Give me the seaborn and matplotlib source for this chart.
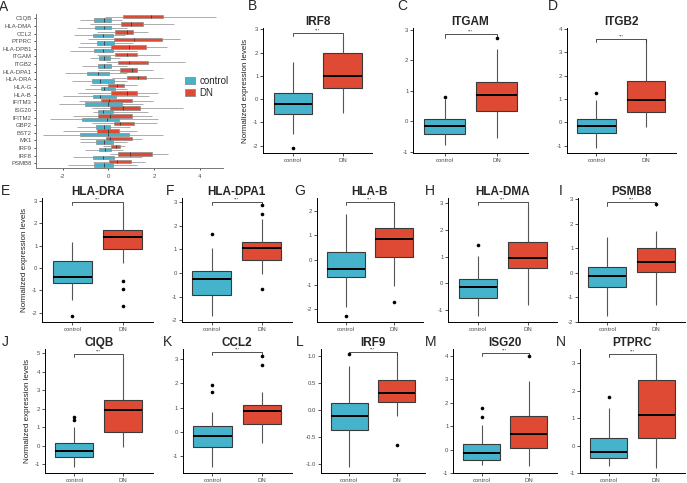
import numpy as np
import pandas as pd
import matplotlib
matplotlib.use("Agg")
import matplotlib.pyplot as plt
from matplotlib.patches import Patch
import seaborn as sns

sns.set_theme(style="ticks")
plt.rcParams["font.family"] = ["Liberation Sans", "DejaVu Sans"]
plt.rcParams["axes.unicode_minus"] = False

GROUPS = ["control", "DN"]
COLORS = {"control": "#45B3CB", "DN": "#DE4A33"}

# ---- panel A: [low whisker, q1, median, q3, high whisker] per gene ----
A_GENES = ["C1QB", "HLA-DMA", "CCL2", "PTPRC", "HLA-DPB1", "ITGAM", "ITGB2",
           "HLA-DPA1", "HLA-DRA", "HLA-G", "HLA-B", "IFITM3", "ISG20", "IFITM2",
           "GBP2", "BST2", "MX1", "IRF9", "IRF8", "PSMB8"]
A_CONTROL = [
    [-1.24, -0.63, -0.19, 0.13, 0.59],
    [-1.39, -0.57, -0.19, 0.10, 0.81],
    [-1.49, -0.66, -0.25, 0.22, 0.73],
    [-1.24, -0.48, -0.19, 0.26, 1.10],
    [-1.68, -0.61, -0.25, 0.19, 1.25],
    [-0.80, -0.41, -0.19, 0.07, 0.51],
    [-1.17, -0.47, -0.19, 0.12, 0.81],
    [-1.90, -0.93, -0.44, 0.04, 0.81],
    [-1.61, -0.70, -0.36, 0.26, 0.81],
    [-1.02, -0.32, -0.19, 0.28, 0.81],
    [-1.97, -0.66, -0.36, 0.32, 1.80],
    [-2.15, -1.02, -0.03, 0.59, 1.54],
    [-0.66, -0.44, -0.23, 0.19, 1.75],
    [-2.56, -1.17, -0.04, 0.48, 2.19],
    [-1.39, -0.54, -0.19, 0.07, 0.95],
    [-2.85, -1.24, 0.00, 0.91, 2.41],
    [-1.24, -0.54, -0.19, 0.19, 0.81],
    [-1.02, -0.39, -0.14, 0.10, 0.66],
    [-1.53, -0.66, -0.25, 0.25, 1.46],
    [-1.78, -0.63, -0.19, 0.22, 1.25],
]
A_DN = [
    [-0.14, 0.66, 1.86, 2.41, 4.71],
    [-0.80, 0.54, 1.00, 1.51, 2.88],
    [-0.51, 0.31, 0.81, 1.08, 1.75],
    [-0.88, 0.26, 1.14, 2.36, 3.15],
    [-1.31, 0.12, 0.89, 1.64, 2.56],
    [-0.51, 0.31, 0.81, 1.25, 2.27],
    [-0.10, 0.43, 0.92, 1.75, 3.38],
    [-0.44, 0.53, 1.03, 1.27, 1.97],
    [0.16, 0.82, 1.32, 1.67, 2.41],
    [-0.80, -0.01, 0.37, 0.67, 1.25],
    [-1.31, 0.12, 0.83, 1.25, 2.19],
    [-1.27, -0.32, 0.02, 1.05, 1.97],
    [-0.73, 0.06, 0.63, 1.39, 3.29],
    [-1.56, -0.44, 0.06, 1.05, 1.90],
    [-0.73, 0.26, 0.51, 1.13, 2.12],
    [-1.97, -0.51, -0.03, 0.48, 1.27],
    [-1.24, -0.10, 0.06, 1.05, 1.46],
    [-0.22, 0.13, 0.34, 0.51, 0.73],
    [0.07, 0.44, 0.95, 1.93, 2.63],
    [-0.66, 0.03, 0.39, 0.98, 1.61],
]

# ---- panels B-N ----
PANEL_GENES = ["IRF8", "ITGAM", "ITGB2", "HLA-DRA", "HLA-DPA1", "HLA-B",
               "HLA-DMA", "PSMB8", "CIQB", "CCL2", "IRF9", "ISG20", "PTPRC"]
PANEL_LETTERS = list("BCDEFGHIJKLMN")
CTRL_STATS = [
    [-1.50, -0.65, -0.23, 0.28, 1.60],
    [-0.79, -0.41, -0.17, 0.08, 0.74],
    [-1.09, -0.47, -0.16, 0.14, 0.95],
    [-1.43, -0.66, -0.39, 0.30, 1.18],
    [-1.83, -0.92, -0.27, 0.07, 1.08],
    [-1.89, -0.68, -0.38, 0.34, 1.85],
    [-1.21, -0.54, -0.15, 0.15, 1.03],
    [-1.76, -0.60, -0.14, 0.25, 1.44],
    [-1.18, -0.60, -0.29, 0.14, 1.03],
    [-1.46, -0.63, -0.17, 0.25, 0.80],
    [-1.05, -0.37, -0.11, 0.12, 0.80],
    [-0.64, -0.42, -0.14, 0.23, 1.06],
    [-0.73, -0.46, -0.24, 0.27, 1.37],
]
DN_STATS = [
    [-0.60, 0.47, 0.98, 1.97, 2.70],
    [-0.55, 0.34, 0.86, 1.30, 2.36],
    [-0.19, 0.45, 0.97, 1.78, 3.57],
    [0.24, 0.85, 1.40, 1.70, 2.82],
    [-0.03, 0.57, 1.08, 1.32, 2.28],
    [-1.05, 0.11, 0.84, 1.28, 2.30],
    [-0.81, 0.56, 0.94, 1.54, 2.94],
    [-1.32, 0.05, 0.42, 1.01, 1.70],
    [-0.09, 0.71, 1.90, 2.48, 4.79],
    [-0.44, 0.33, 0.88, 1.12, 1.63],
    [-0.12, 0.15, 0.31, 0.54, 1.05],
    [-0.71, 0.07, 0.67, 1.42, 2.90],
    [-0.83, 0.29, 1.12, 2.38, 3.26],
]
CTRL_OUTLIERS = [[-2.10], [0.81], [1.27], [-2.13], [1.67], [-2.26], [1.45], [],
                 [1.36, 1.57], [1.66, 1.94], [1.03], [1.39, 1.77], [1.77]]
DN_OUTLIERS = [[], [2.73], [], [-0.60, -0.93, -1.69], [-0.67, 2.52, 2.88],
               [-1.72], [], [2.79], [], [2.74, 3.12], [-0.64], [3.97], []]
BRACKET_Y = [2.83, 2.85, 3.57, 2.94, 3.00, 2.34, 3.06, 2.87, 4.97, 3.28,
             1.07, 4.10, 3.32]
Y_LIMS = [(-2.33, 3.04), (-1.05, 3.05), (-1.32, 4.02), (-2.40, 3.12),
          (-2.07, 3.17), (-2.50, 2.50), (-1.44, 3.19), (-2.00, 3.04),
          (-1.50, 5.22), (-1.71, 3.42), (-1.17, 1.12), (-1.00, 4.28),
          (-1.01, 3.51)]

# axes rectangles in pixels: left, top, right, bottom
W, H = 687, 483
RECT_A = (35.7, 13.7, 223, 167.9)
RECTS = [(263.3, 28.3, 372.3, 153.3), (413.3, 28.3, 527.7, 153.3),
         (566.7, 28.3, 675.7, 153.3),
         (42.3, 198.3, 152.7, 321.7), (181.7, 198.3, 291.7, 321.7),
         (316.7, 198.3, 423, 321.7), (448.3, 198.3, 557.3, 321.7),
         (578.3, 198.3, 685, 321.7),
         (45, 349, 152.7, 473.3), (182.7, 349, 291.7, 473.3),
         (320.7, 349, 425, 473.3), (453.3, 349, 556.7, 473.3),
         (580, 349, 685, 473.3)]
LETTER_POS = [(252, 5.5), (402, 5.5), (553, 5.5), (6, 191), (170, 191),
              (299.5, 191), (430, 191), (561, 191), (5, 342), (167, 342),
              (300, 342), (430.5, 342), (561, 342)]


def add_axes(fig, rect):
    l, t, r, b = rect
    return fig.add_axes([l / W, 1 - b / H, (r - l) / W, (b - t) / H])


def style_axes(ax):
    sns.despine(ax=ax)
    for s in ("left", "bottom"):
        ax.spines[s].set_linewidth(0.7)
        ax.spines[s].set_color("black")
    ax.tick_params(length=2, width=0.6, pad=1.5, labelsize=4.3,
                   color="#333333", labelcolor="#4d4d4d")


fig = plt.figure(figsize=(W / 100, H / 100), dpi=100)

# ---------- panel A ----------
rows = []
for g, c, d in zip(A_GENES, A_CONTROL, A_DN):
    rows += [(g, "control", v) for v in c]
    rows += [(g, "DN", v) for v in d]
dfA = pd.DataFrame(rows, columns=["gene", "group", "value"])

axA = add_axes(fig, RECT_A)
sns.boxplot(data=dfA, x="value", y="gene", hue="group", order=A_GENES,
            hue_order=["DN", "control"], palette=COLORS, saturation=1,
            orient="h", whis=(0, 100), width=0.9, gap=0, linewidth=0.5,
            linecolor="#8c8c8c", showcaps=False, legend=False,
            medianprops=dict(color="#444444", linewidth=0.7), ax=axA)
axA.set_xlim(-3.18, 5.03)
axA.set_ylim(len(A_GENES) - 0.4, -0.6)
axA.set_xticks([-2, 0, 2, 4])
axA.set_xlabel("")
axA.set_ylabel("")
style_axes(axA)
axA.spines["left"].set_color("#777777")
axA.spines["bottom"].set_color("#777777")
axA.tick_params(length=1.5, labelsize=4.3)
axA.tick_params(axis="x", pad=3)
handles = [Patch(facecolor=COLORS[g], edgecolor="#8c8c8c", linewidth=0.6)
           for g in GROUPS]
axA.legend(handles, GROUPS, loc="upper left", bbox_to_anchor=(0.77, 0.63),
           frameon=False, fontsize=7, handlelength=1.1, handleheight=0.8,
           labelspacing=0.25, handletextpad=0.4, borderpad=0)
fig.text(4 / W, 1 - 7 / H, "A", fontsize=10, ha="center", va="center")

# ---------- panels B-N ----------
for i, gene in enumerate(PANEL_GENES):
    ax = add_axes(fig, RECTS[i])
    box_df = pd.DataFrame({
        "group": ["control"] * 5 + ["DN"] * 5,
        "value": CTRL_STATS[i] + DN_STATS[i],
    })
    out_df = pd.DataFrame({
        "group": ["control"] * len(CTRL_OUTLIERS[i]) + ["DN"] * len(DN_OUTLIERS[i]),
        "value": CTRL_OUTLIERS[i] + DN_OUTLIERS[i],
    })
    sns.boxplot(data=box_df, x="group", y="value", hue="group", order=GROUPS,
                palette=COLORS, saturation=1, whis=(0, 100), width=0.78,
                linewidth=0.8, linecolor="#3a3a3a", showcaps=False,
                legend=False, whiskerprops=dict(color="#555555"),
                medianprops=dict(color="black", linewidth=1.4), ax=ax)
    if len(out_df):
        sns.stripplot(data=out_df, x="group", y="value", order=GROUPS,
                      jitter=False, color="black", size=2.6, linewidth=0,
                      ax=ax)
    ax.set_xlim(-0.6, 1.6)
    lo, hi = Y_LIMS[i]
    ax.set_ylim(lo, hi)
    if gene == "IRF9":
        ax.set_yticks([-1.0, -0.5, 0.0, 0.5, 1.0])
        ax.set_yticklabels(["-1.0", "-0.5", "0.0", "0.5", "1.0"])
    else:
        ax.set_yticks(range(int(np.ceil(lo)), int(np.floor(hi)) + 1))
    ax.set_xlabel("")
    if i in (0, 3, 8):
        ax.set_ylabel("Normalized expression levels", fontsize=5.8,
                      color="#222222", labelpad=3)
    else:
        ax.set_ylabel("")
    ax.set_title(gene, fontsize=8.5, fontweight="bold", pad=2.5)
    style_axes(ax)

    # significance bracket
    y = BRACKET_Y[i]
    d = 0.025 * (hi - lo)
    ax.plot([0, 0, 1, 1], [y - d, y, y, y - d], color="#333333", lw=0.6)
    ax.text(0.5, y + 0.003 * (hi - lo), "***", ha="center", va="bottom",
            fontsize=3.2, color="#333333")

    lx, ly = LETTER_POS[i]
    fig.text(lx / W, 1 - ly / H, PANEL_LETTERS[i], fontsize=10,
             ha="center", va="center")

fig.savefig("out.png", dpi=100)
